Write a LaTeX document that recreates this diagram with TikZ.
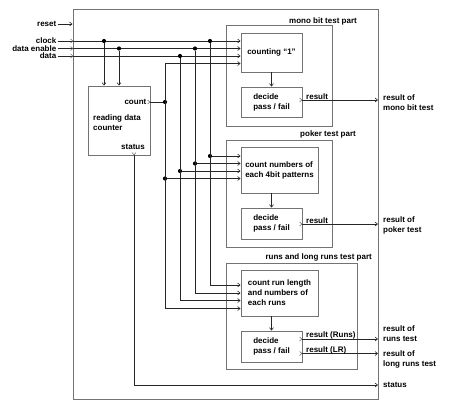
\documentclass[tikz,border=0pt]{standalone}
\usepackage{fontspec}
\setmainfont{Liberation Sans}
\usetikzlibrary{arrows.meta}
\begin{document}
\begin{tikzpicture}[x=1pt,y=-1pt,
  font=\fontsize{8}{10}\selectfont\bfseries,
  box/.style={draw=black!55,line width=0.9pt,inner sep=0pt,rectangle,align=left},
  lbl/.style={inner sep=1pt,align=left},
  wire/.style={draw=black!85,line width=0.6pt},
  arr/.style={wire,-{Straight Barb[length=2.5pt,width=4pt]}},
  dot/.style={circle,fill=black,inner sep=0pt,minimum size=4.2pt},
  portr/.pic={\draw[black!60,line width=0.5pt] (-2.5,-2) -- (0,0) -- (-2.5,2);},
  portd/.pic={\draw[black!60,line width=0.5pt] (-2,-2.5) -- (0,0) -- (2,-2.5);},
]
\useasboundingbox (0,0) rectangle (450,407);

% boxes
\node[box,minimum width=305pt,minimum height=390pt] (outer) at (225.5,204) {};
\node[box,minimum width=62pt,minimum height=69pt] (counter) at (119,120.5) {};
\node[box,minimum width=106pt,minimum height=101pt] (monopart) at (279,75.5) {};
\node[box,minimum width=61pt,minimum height=39pt] (count1) at (271.5,52.5) {counting “1”};
\node[box,minimum width=61pt,minimum height=30pt] (dec1) at (271.5,102) {decide\\pass / fail};
\node[box,minimum width=106pt,minimum height=107pt] (pokerpart) at (279,193.5) {};
\node[box,minimum width=77pt,minimum height=46pt] (count2) at (279.5,170) {count numbers of\\each 4bit patterns};
\node[box,minimum width=61pt,minimum height=31pt] (dec2) at (271.5,223.5) {decide\\pass / fail};
\node[box,minimum width=131pt,minimum height=106pt] (runspart) at (291.5,316) {};
\node[box,minimum width=77pt,minimum height=46pt] (count3) at (279.5,293) {count run length\\and numbers of\\each runs};
\node[box,minimum width=61pt,minimum height=31pt] (dec3) at (271.5,346.5) {decide\\pass / fail};

% part titles
\node[lbl,anchor=east] (t1) at (358,21) {mono bit test part};
\node[lbl,anchor=east] (t2) at (357,134) {poker test part};
\node[lbl,anchor=east] (t3) at (373,257) {runs and long runs test part};

% counter texts
\node[lbl,anchor=west] (rdc) at (92,123) {reading data\\counter};
\node[lbl,anchor=east] (cnt) at (147.5,102) {count};
\node[lbl,anchor=east] (st) at (146,147) {status};

% input labels
\node[lbl,anchor=east] (reset) at (57.5,24) {reset};
\node[lbl,anchor=east] (clock) at (57.5,41) {clock};
\node[lbl,anchor=east] (den) at (57.5,48.5) {data enable};
\node[lbl,anchor=east] (data) at (57.5,56) {data};

% output labels
\node[lbl,anchor=west] (o1) at (382,103) {result of\\mono bit test};
\node[lbl,anchor=west] (o2) at (382,225) {result of\\poker test};
\node[lbl,anchor=west] (o3) at (382,333.5) {result of\\runs test};
\node[lbl,anchor=west] (o4) at (382,359) {result of\\long runs test};
\node[lbl,anchor=west] (o5) at (382,385) {status};

% reset
\draw[arr] (reset.east) -- (outer.west |- reset.east);

% clock
\coordinate (clkIn) at (73,41);
\draw[wire] (clock.east) -- (clkIn);
\pic at (clkIn) {portr};
\draw[arr] (clkIn) -- (count1.west |- clkIn);
\node[dot] (dclkA) at (104,41) {};
\node[dot] (dclkB) at (210,41) {};
\node[dot] (dclkC) at (210,156) {};
\coordinate (kclk) at (210,285);
\draw[arr] (dclkA) -- (counter.north -| dclkA);
\draw[arr] (dclkB) -- (kclk) -- (count3.west |- kclk);
\draw[arr] (dclkC) -- (count2.west |- dclkC);

% data enable
\coordinate (denIn) at (73,48.5);
\draw[wire] (den.east) -- (denIn);
\pic at (denIn) {portr};
\draw[arr] (denIn) -- (count1.west |- denIn);
\node[dot] (ddenA) at (119,48.5) {};
\node[dot] (ddenB) at (195,48.5) {};
\node[dot] (ddenC) at (195,163.5) {};
\coordinate (kden) at (195,293);
\draw[arr] (ddenA) -- (counter.north -| ddenA);
\draw[arr] (ddenB) -- (kden) -- (count3.west |- kden);
\draw[arr] (ddenC) -- (count2.west |- ddenC);

% data
\coordinate (datIn) at (73,56);
\draw[wire] (data.east) -- (datIn);
\pic at (datIn) {portr};
\draw[arr] (datIn) -- (count1.west |- datIn);
\node[dot] (ddatB) at (180,56) {};
\node[dot] (ddatC) at (180,171) {};
\coordinate (kdat) at (180,300.5);
\draw[arr] (ddatB) -- (kdat) -- (count3.west |- kdat);
\draw[arr] (ddatC) -- (count2.west |- ddatC);

% count
\coordinate (cntport) at (150,102);
\pic at (cntport) {portr};
\node[dot] (dcntA) at (165,102) {};
\node[dot] (dcntC) at (165,178.5) {};
\coordinate (kcntT) at (165,63.5);
\coordinate (kcntB) at (165,308.5);
\draw[wire] (cntport) -- (dcntA);
\draw[wire] (kcntT) -- (kcntB);
\draw[arr] (kcntT) -- (count1.west |- kcntT);
\draw[arr] (dcntC) -- (count2.west |- dcntC);
\draw[arr] (kcntB) -- (count3.west |- kcntB);

% inner arrows
\draw[arr] (count1.south) -- (dec1.north);
\draw[arr] (dec2.north |- count2.south) -- (dec2.north);
\draw[arr] (dec3.north |- count3.south) -- (dec3.north);

% results
\coordinate (r1a) at (302,100);
\coordinate (r1b) at (378,100);
\pic at (r1a) {portr};
\draw[arr] (r1a) -- (r1b);
\node[lbl,anchor=base west] (res1) at (305,99) {result};

\coordinate (r2a) at (302,224);
\coordinate (r2b) at (378,224);
\pic at (r2a) {portr};
\draw[arr] (r2a) -- (r2b);
\node[lbl,anchor=base west] (res2) at (305,223) {result};

\coordinate (r3a) at (302,339);
\coordinate (r3b) at (378,339);
\pic at (r3a) {portr};
\draw[arr] (r3a) -- (r3b);
\node[lbl,anchor=base west] (res3) at (305,337) {result (Runs)};

\coordinate (r4a) at (302,353.5);
\coordinate (r4b) at (378,353.5);
\pic at (r4a) {portr};
\draw[arr] (r4a) -- (r4b);
\node[lbl,anchor=base west] (res4) at (305,352) {result (LR)};

% status
\coordinate (stp) at (134,155);
\coordinate (stc) at (134,385);
\coordinate (ste) at (378,385);
\pic at (stp) {portd};
\draw[arr] (stp) -- (stc) -- (ste);
\end{tikzpicture}
\end{document}
